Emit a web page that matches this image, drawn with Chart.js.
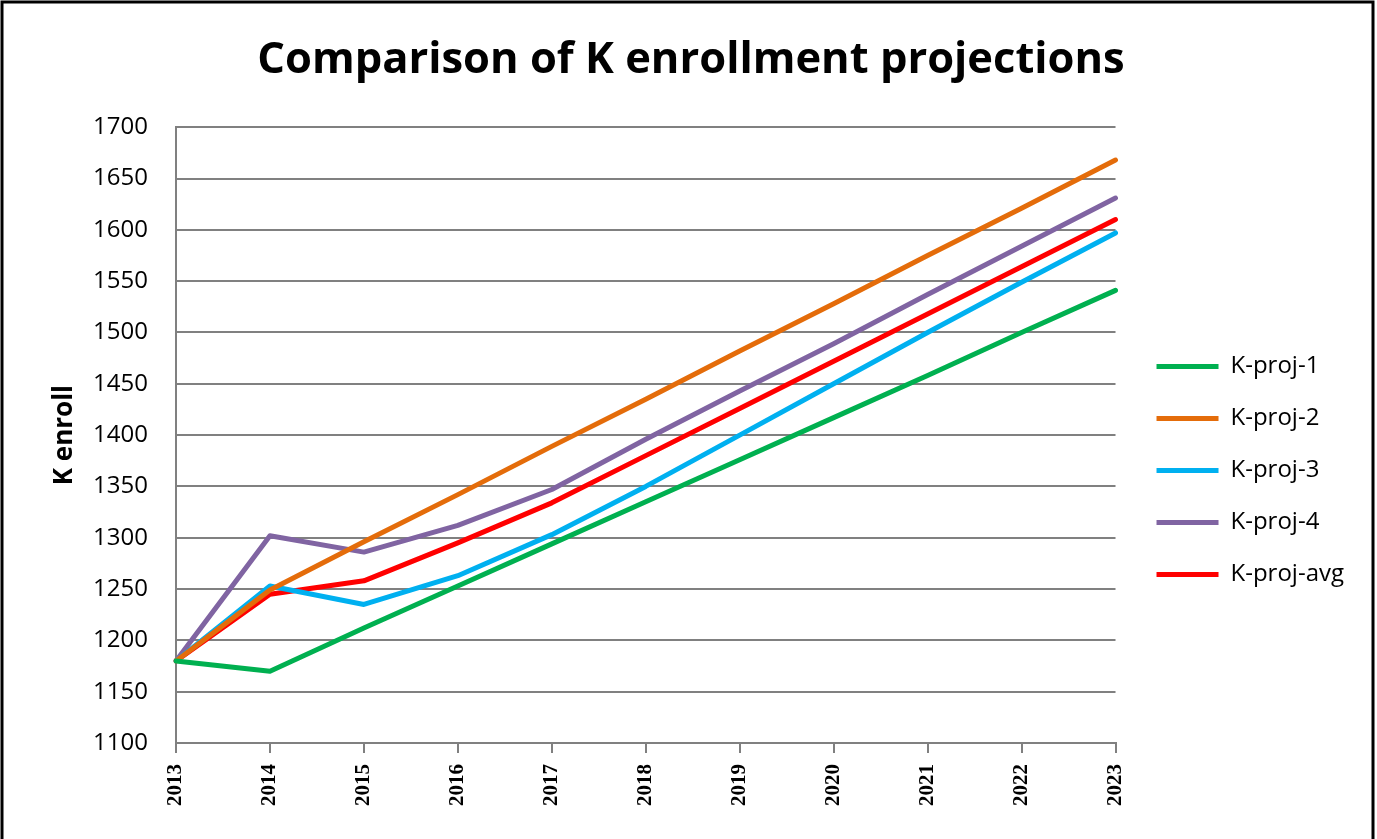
<!DOCTYPE html>
<html>
<head>
<meta charset="utf-8">
<script src="https://cdn.jsdelivr.net/npm/chart.js@4.4.0/dist/chart.umd.min.js"></script>
<style>
  html, body { margin: 0; padding: 0; background: #fff; }
  #wrap { width: 1377px; height: 839px; }
</style>
</head>
<body>
<div id="wrap"><canvas id="myChart"></canvas></div>
<script>
const years = [2013, 2014, 2015, 2016, 2017, 2018, 2019, 2020, 2021, 2022, 2023];
const proj1 = [1180, 1170, 1212, 1253, 1294, 1335, 1376, 1417, 1458, 1500, 1541];
const proj2 = [1180, 1249, 1296, 1342, 1389, 1435, 1482, 1528, 1575, 1621, 1668];
const proj3 = [1180, 1253, 1235, 1263, 1303, 1350, 1400, 1450, 1500, 1549, 1597];
const proj4 = [1180, 1302, 1286, 1312, 1347, 1396, 1443, 1489, 1537, 1584, 1631];
const projAvg = [1180, 1245, 1258, 1295, 1334, 1380, 1426, 1472, 1518, 1564, 1610];

const ctx = document.querySelector('#myChart').getContext('2d');

// outer frame like the spreadsheet chart border
const frame = {
  id: 'frame',
  afterDraw(chart) {
    const c = chart.ctx;
    c.save();
    c.strokeStyle = '#000';
    c.lineWidth = 3;
    c.strokeRect(2, 2, 1371, 860);
    c.restore();
  }
};

// nudge the legend a bit to the right, away from the plot
const legendShift = {
  id: 'legendShift',
  beforeUpdate(chart) {
    const lg = chart.legend;
    if (lg && !lg._shifted) {
      const draw = lg.draw.bind(lg);
      lg.draw = function () {
        this.ctx.save();
        this.ctx.translate(13, 0);
        draw();
        this.ctx.restore();
      };
      lg._shifted = true;
    }
  }
};

function line(label, data, color) {
  return {
    label: label,
    data: data,
    borderColor: color,
    backgroundColor: color,
    borderWidth: 5,
    borderCapStyle: 'round',
    borderJoinStyle: 'round',
    pointRadius: 0,
    tension: 0,
    fill: false,
  };
}

const myChart = new Chart(ctx, {
  type: 'line',
  data: {
    labels: years,
    datasets: [
      line('K-proj-1', proj1, '#00b050'),
      line('K-proj-2', proj2, '#e46c0a'),
      line('K-proj-3', proj3, '#00b0f0'),
      line('K-proj-4', proj4, '#8064a2'),
      line('K-proj-avg', projAvg, '#ff0000'),
    ],
  },
  options: {
    responsive: true,
    maintainAspectRatio: false,
    animation: false,
    layout: {
      padding: { left: 41, right: 36, top: 30, bottom: 22 }
    },
    plugins: {
      title: {
        display: true,
        text: 'Comparison of K enrollment projections',
        color: '#000',
        font: { family: 'Open Sans', size: 43.5, weight: 'bold' },
        padding: { top: 5, bottom: 40 },
      },
      legend: {
        position: 'right',
        title: {
          display: true,
          text: ' ',
          font: { size: 6 },
          padding: { top: 60, bottom: 27 },
        },
        labels: {
          usePointStyle: true,
          pointStyle: 'line',
          pointStyleWidth: 62,
          color: '#000',
          font: { family: 'Open Sans', size: 24 },
          padding: 28,
        }
      },
      tooltip: { enabled: false },
    },
    scales: {
      x: {
        type: 'category',
        offset: false,
        grid: {
          display: true,
          drawOnChartArea: false,
          color: '#808080',
          lineWidth: 2,
          tickLength: 10,
        },
        border: { color: '#808080', width: 2 },
        ticks: {
          color: '#000',
          minRotation: 90,
          maxRotation: 90,
          padding: 11,
          font: { family: 'Liberation Serif', size: 21, weight: 'bold' },
        },
      },
      y: {
        min: 1100,
        max: 1700,
        afterFit(scale) { scale.width = 135; },
        grid: {
          color: '#808080',
          lineWidth: 2,
          drawTicks: false,
        },
        border: { color: '#808080', width: 2 },
        ticks: {
          stepSize: 50,
          color: '#000',
          padding: 28,
          font: { family: 'Open Sans', size: 24 },
          callback: (v) => String(v),
        },
        title: {
          display: true,
          text: 'K enroll',
          color: '#000',
          font: { family: 'Open Sans', size: 26, weight: 'bold' },
          padding: { top: 8, bottom: 9 },
        },
      }
    },
  },
  plugins: [frame, legendShift],
})
</script>
</body>
</html>
